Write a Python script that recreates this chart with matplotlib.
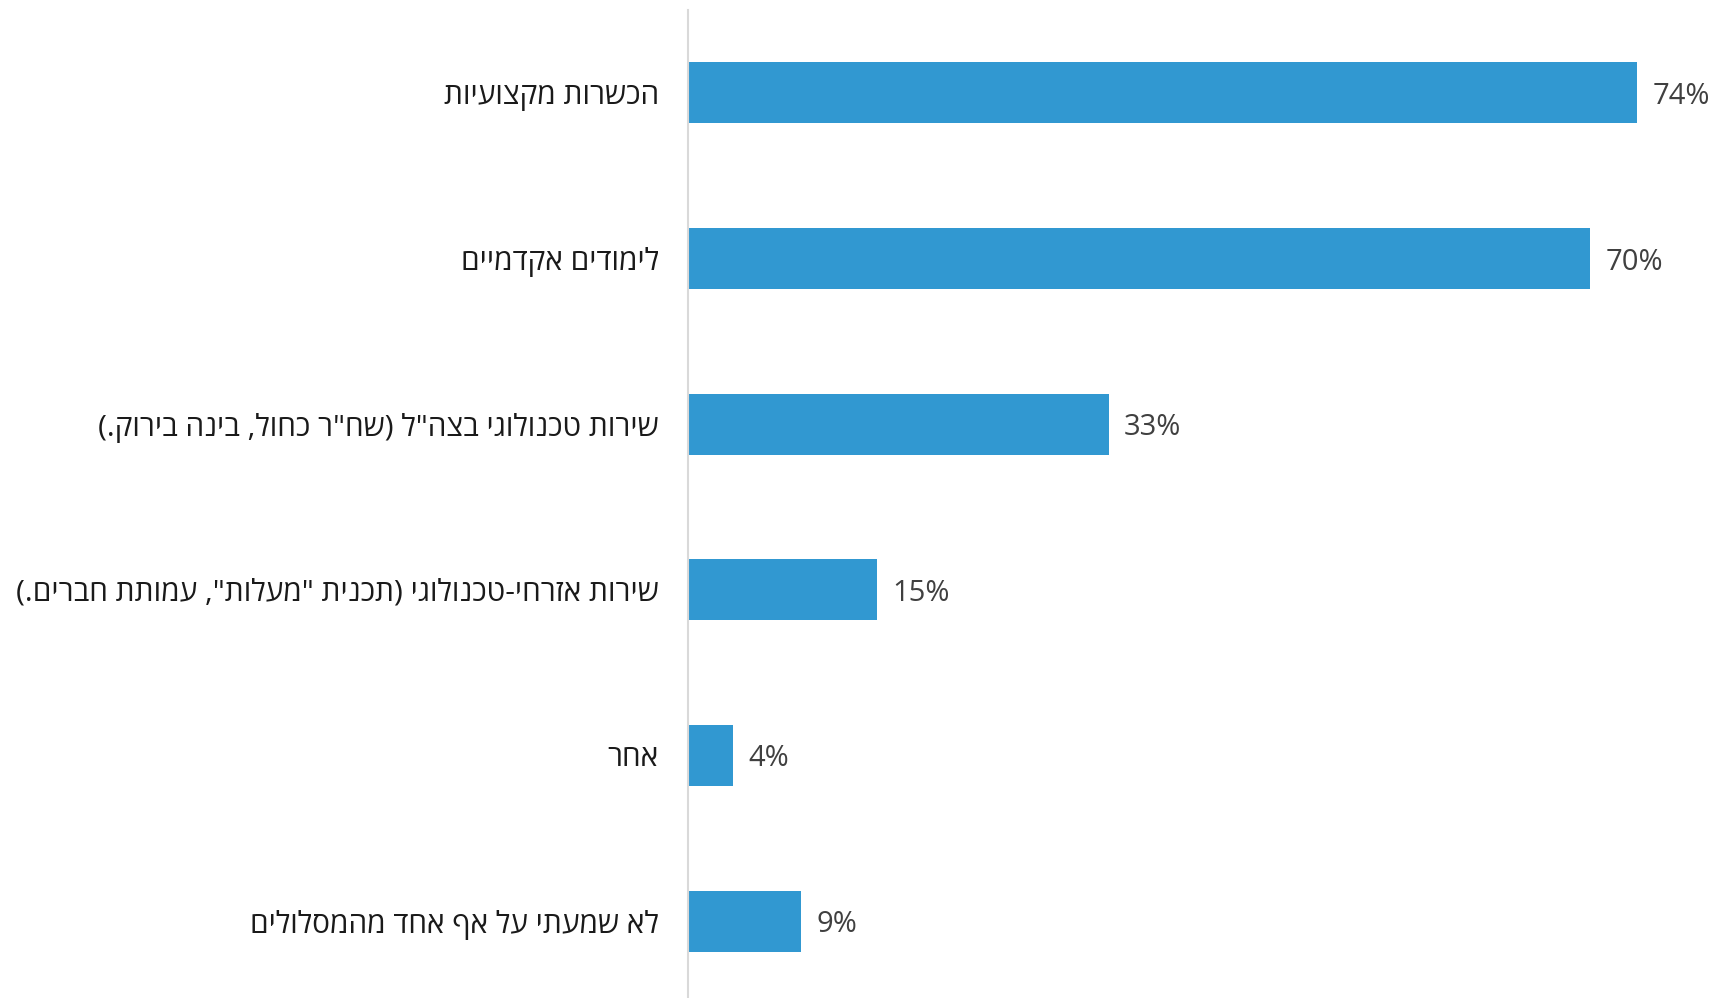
import matplotlib
matplotlib.use("Agg")
import matplotlib.pyplot as plt

categories = [
    "הכשרות מקצועיות",
    "לימודים אקדמיים",
    'שירות טכנולוגי בצה"ל (שח"ר כחול, בינה בירוק.)',
    'שירות אזרחי-טכנולוגי (תכנית "מעלות", עמותת חברים.)',
    "אחר",
    "לא שמעתי על אף אחד מהמסלולים",
]
values = [74.0, 70.3, 32.8, 14.7, 3.5, 8.8]
value_labels = ["74%", "70%", "33%", "15%", "4%", "9%"]


def visual(s):
    # simple RTL -> visual LTR conversion (no numbers / latin inside)
    swap = {"(": ")", ")": "("}
    return "".join(swap.get(c, c) for c in s[::-1])


plt.rcParams['font.family'] = ['Open Sans', 'DejaVu Sans']

fig = plt.figure(figsize=(17.13, 9.98), dpi=100)
ax = fig.add_axes([688 / 1713, -6 / 998, 80 * 12.83 / 1713, 994 / 998])

y = list(range(len(categories)))
ax.barh(y, values, height=0.37, color="#3198D1", edgecolor="none")
ax.set_ylim(len(categories) - 0.5, -0.5)
ax.set_xlim(0, 80)

for yi, v, lab in zip(y, values, value_labels):
    ax.annotate(lab, (v, yi), xytext=(11, 0), textcoords="offset points",
                ha="left", va="center_baseline", fontsize=21, color="#404040")

ax.set_yticks(y)
ax.set_yticklabels([visual(c) for c in categories], fontsize=21.5, color="#1a1a1a")
ax.tick_params(axis="y", length=0, pad=21)
ax.set_xticks([])
for s in ["top", "right", "bottom"]:
    ax.spines[s].set_visible(False)
ax.spines["left"].set_color("#D9D9D9")
ax.spines["left"].set_linewidth(1.5)

fig.savefig("out.png", dpi=100)
